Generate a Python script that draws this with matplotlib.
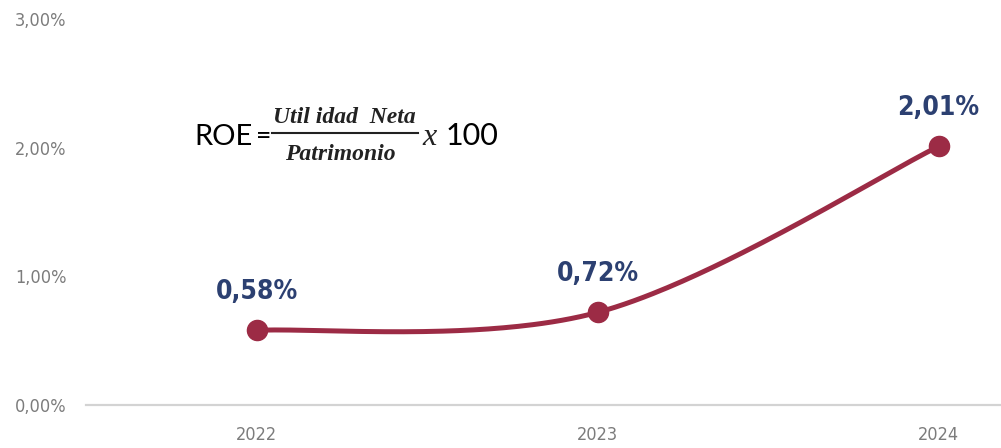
import numpy as np
import matplotlib.pyplot as plt
from matplotlib.lines import Line2D
from matplotlib.ticker import FuncFormatter

# datos
years = ["2022", "2023", "2024"]
roe = [0.58, 0.72, 2.01]
labels = ["0,58%", "0,72%", "2,01%"]
yticks = [0, 1, 2, 3]

LINE = "#9c2b45"
NAVY = "#2c4071"
GRAY = "#7c7c7c"

def smooth(x, y, n=80):
    # curva tipo Catmull-Rom entre los puntos
    x = np.asarray(x, float)
    y = np.asarray(y, float)
    px = np.concatenate([[x[0]], x, [x[-1]]])
    py = np.concatenate([[y[0]], y, [y[-1]]])
    xs, ys = [], []
    for i in range(1, len(px) - 2):
        t = np.linspace(0, 1, n)
        for arr, out in ((px, xs), (py, ys)):
            p0, p1, p2, p3 = arr[i - 1], arr[i], arr[i + 1], arr[i + 2]
            out.append(0.5 * ((2 * p1) + (-p0 + p2) * t
                              + (2 * p0 - 5 * p1 + 4 * p2 - p3) * t**2
                              + (-p0 + 3 * p1 - 3 * p2 + p3) * t**3))
    return np.concatenate(xs), np.concatenate(ys)

x = np.arange(len(years))
sx, sy = smooth(x, roe)

W, H = 1001, 448
fig = plt.figure(figsize=(W / 100, H / 100), dpi=100)
ax = fig.add_axes([0.086, 0.096, 0.914, 0.8616])

ax.plot(sx, sy, color=LINE, lw=3.6, solid_capstyle="round", zorder=2)
ax.plot(x, roe, "o", color=LINE, ms=14.5, zorder=3)

for xi, yi, lab in zip(x, roe, labels):
    ax.annotate(lab, (xi, yi), xytext=(0, 18), textcoords="offset points",
                ha="center", va="bottom", fontsize=19, fontweight="bold",
                color=NAVY, family="DejaVu Sans", fontstretch="condensed")

# formula ROE (posicionada en pixeles de la figura)
fx = lambda p: p / W
fy = lambda p: 1 - p / H
serif = dict(family="Liberation Serif", style="italic", color="#222222")
sans = dict(family="Lato", color="black")
fig.text(fx(194), fy(145), "ROE", fontsize=21, va="baseline", **sans)
fig.text(fx(256), fy(144), "=", fontsize=19, va="baseline", **sans)
fig.text(fx(344), fy(123), "Util idad  Neta", fontsize=17, ha="center",
         va="baseline", fontweight="bold", **serif)
fig.text(fx(340), fy(160), "Patrimonio", fontsize=17, ha="center",
         va="baseline", fontweight="bold", **serif)
fig.add_artist(Line2D([fx(272), fx(418)], [fy(133), fy(133)],
                      transform=fig.transFigure, color="#222222", lw=1.5))
fig.text(fx(422), fy(145), "x", fontsize=23, va="baseline", **serif)
fig.text(fx(446), fy(145), "100", fontsize=22, va="baseline", **sans)

ax.set_xlim(-0.501, 2.183)
ax.set_ylim(0, 3)
ax.set_xticks(x)
ax.set_xticklabels(years)
ax.set_yticks(yticks)
ax.yaxis.set_major_formatter(FuncFormatter(lambda v, p: f"{v:.2f}%".replace(".", ",")))

for s in ["top", "right", "left"]:
    ax.spines[s].set_visible(False)
ax.spines["bottom"].set_color("#d3d3d3")
ax.spines["bottom"].set_linewidth(1.6)
ax.tick_params(axis="both", length=0, colors=GRAY, labelsize=13)
ax.tick_params(axis="y", pad=14)
ax.tick_params(axis="x", pad=15)
for t in ax.get_xticklabels() + ax.get_yticklabels():
    t.set_family("DejaVu Sans")
    t.set_fontstretch("condensed")

fig.savefig("out.png", dpi=100, facecolor="white")
